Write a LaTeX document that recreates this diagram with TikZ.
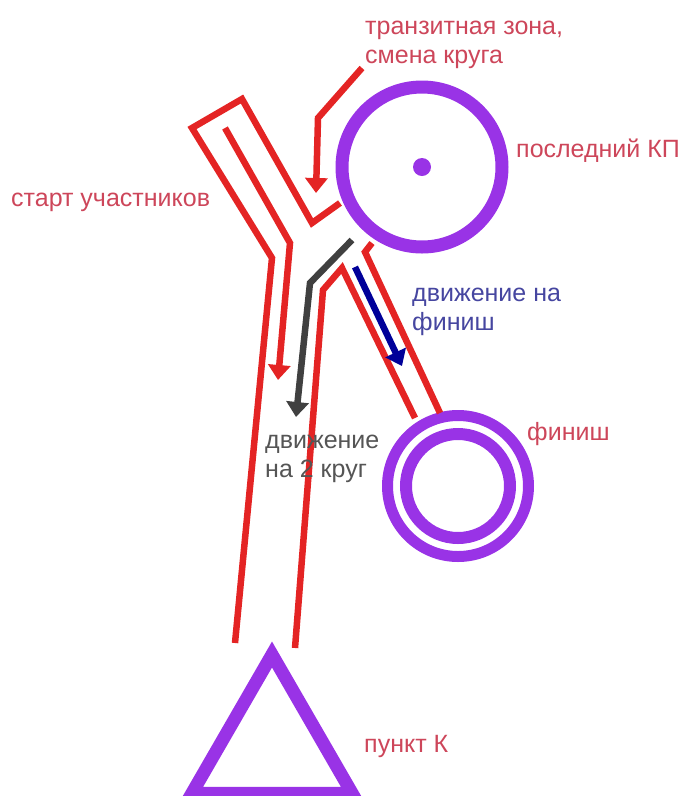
\documentclass[tikz,border=0pt]{standalone}
\usepackage{fontspec}
\setmainfont{Liberation Sans}
\usetikzlibrary{arrows.meta,positioning,shapes.geometric}
\definecolor{trackRed}{RGB}{228,36,36}
\definecolor{kpPurple}{RGB}{153,51,230}
\definecolor{lblRed}{RGB}{205,70,90}
\definecolor{lblBlue}{RGB}{70,70,160}
\definecolor{lblGray}{RGB}{85,85,85}
\definecolor{lapGray}{RGB}{64,64,64}
\definecolor{finBlue}{RGB}{0,0,153}
\tikzset{
  track/.style={draw=trackRed, line width=6.5pt, line join=miter},
  ring/.style={circle, draw=kpPurple, inner sep=0pt, outer sep=0pt},
  runarrow/.style={-{Triangle[width=22pt,length=15pt]}, line width=6.5pt},
  lbl/.style={anchor=base west, inner sep=0pt, align=left, font=\fontsize{25}{29}\selectfont}
}

\begin{document}
\begin{tikzpicture}[x=1pt,y=-1pt]
  \useasboundingbox (0,0) rectangle (690,796);
  % checkpoints
  \node[ring, line width=13pt, minimum size=160pt] (kp) at (422,167) {};
  \fill[kpPurple] (kp.center) circle (9);
  \node[ring, line width=11pt, minimum size=141pt] (fin) at (458,486) {};
  \node[ring, line width=12pt, minimum size=104pt] (finin) at (fin.center) {};
  \node[regular polygon, regular polygon sides=3, draw=kpPurple, line width=13pt,
        inner sep=0pt, minimum size=185pt] (pk) at (272,747) {};
  % track corners
  \coordinate (capL) at (192,128);
  \coordinate (capR) at (242,99);
  \coordinate (bendL) at (272,258);
  \coordinate (notch) at (312,223);
  \coordinate (notchR) at (340,203);
  \coordinate (trunkL) at (235,643);
  \coordinate (trunkR) at (295,648);
  \coordinate (forkL) at (323,290);
  \coordinate (fork) at (342,268);
  \coordinate (finL) at (415,418);
  \coordinate (branchT) at (372,243);
  \coordinate (branchK) at (365,252);
  \coordinate (finR) at (440,413);
  \draw[track] (notchR) -- (notch) -- (capR) -- (capL) -- (bendL) -- (trunkL);
  \draw[track] (trunkR) -- (forkL) -- (fork) -- (finL);
  \draw[track] (branchT) -- (branchK) -- (finR);
  % arrows
  \coordinate (startA) at (225,128);
  \coordinate (startB) at (290,243);
  \coordinate (startE) at (278,380);
  \draw[runarrow, trackRed] (startA) -- (startB) -- (startE);
  \coordinate (zoneA) at (362,68);
  \coordinate (zoneB) at (318,118);
  \coordinate (zoneE) at (316,193);
  \draw[runarrow, trackRed] (zoneA) -- (zoneB) -- (zoneE);
  \coordinate (lapA) at (352,240);
  \coordinate (lapB) at (310,283);
  \coordinate (lapE) at (296,417);
  \draw[runarrow, lapGray] (lapA) -- (lapB) -- (lapE);
  \coordinate (goA) at (355,267);
  \coordinate (goE) at (402,366);
  \draw[runarrow, finBlue] (goA) -- (goE);
  % labels
  \node[lbl, text=lblRed] (transit) at (365,63) {транзитная зона,\\смена круга};
  \node[lbl, text=lblRed] (kplbl) at (516,157) {последний КП};
  \node[lbl, text=lblRed] (startlbl) at (11,206) {старт участников};
  \node[lbl, text=lblBlue] (golbl) at (412,330) {движение на\\финиш};
  \node[lbl, text=lblRed] (finlbl) at (527,440) {финиш};
  \node[lbl, text=lblGray] (laplbl) at (265,477) {движение\\на 2 круг};
  \node[lbl, text=lblRed] (pklbl) at (364,752) {пункт К};
\end{tikzpicture}
\end{document}
